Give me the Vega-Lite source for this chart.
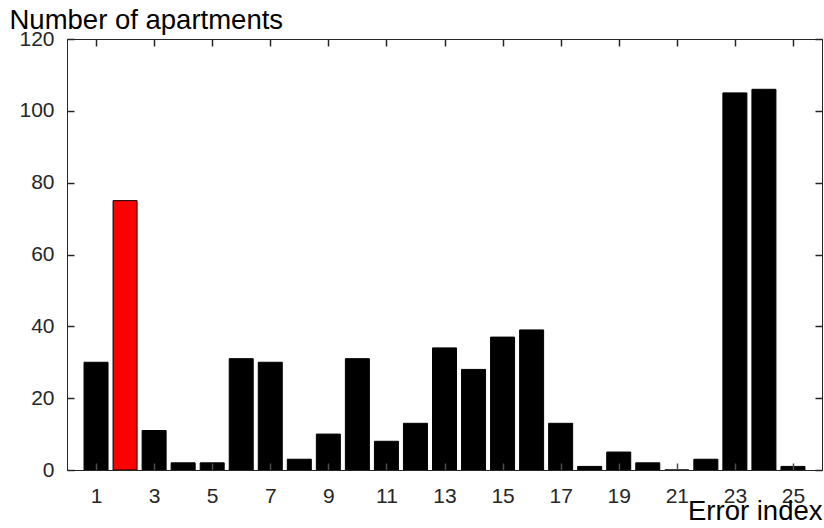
{
  "$schema": "https://vega.github.io/schema/vega-lite/v6.json",
  "width": 755,
  "height": 431,
  "autosize": {"type": "none"},
  "padding": {"left": 67, "top": 39, "right": 2, "bottom": 58},
  "background": "white",
  "config": {
    "view": {"stroke": "#262626", "strokeWidth": 1},
    "font": "Liberation Sans",
    "axis": {
      "grid": false,
      "labelColor": "#262626",
      "titleColor": "#000000",
      "labelFontSize": 21,
      "titleFontSize": 27.5,
      "titleFontWeight": "normal",
      "labelFont": "Liberation Sans",
      "titleFont": "Liberation Sans"
    }
  },
  "data": {
    "values": [
      {"index": 1, "count": 30, "group": "normal"},
      {"index": 2, "count": 75, "group": "highlight"},
      {"index": 3, "count": 11, "group": "normal"},
      {"index": 4, "count": 2, "group": "normal"},
      {"index": 5, "count": 2, "group": "normal"},
      {"index": 6, "count": 31, "group": "normal"},
      {"index": 7, "count": 30, "group": "normal"},
      {"index": 8, "count": 3, "group": "normal"},
      {"index": 9, "count": 10, "group": "normal"},
      {"index": 10, "count": 31, "group": "normal"},
      {"index": 11, "count": 8, "group": "normal"},
      {"index": 12, "count": 13, "group": "normal"},
      {"index": 13, "count": 34, "group": "normal"},
      {"index": 14, "count": 28, "group": "normal"},
      {"index": 15, "count": 37, "group": "normal"},
      {"index": 16, "count": 39, "group": "normal"},
      {"index": 17, "count": 13, "group": "normal"},
      {"index": 18, "count": 1, "group": "normal"},
      {"index": 19, "count": 5, "group": "normal"},
      {"index": 20, "count": 2, "group": "normal"},
      {"index": 21, "count": 0, "group": "normal"},
      {"index": 22, "count": 3, "group": "normal"},
      {"index": 23, "count": 105, "group": "normal"},
      {"index": 24, "count": 106, "group": "normal"},
      {"index": 25, "count": 1, "group": "normal"}
    ]
  },
  "layer": [
    {
      "mark": {"type": "bar", "size": 24, "stroke": "black", "strokeWidth": 1},
      "encoding": {
        "x": {
          "field": "index", "type": "quantitative",
          "scale": {"domain": [0, 26], "nice": false, "zero": false, "padding": 0},
          "axis": {
            "orient": "bottom",
            "values": [1, 3, 5, 7, 9, 11, 13, 15, 17, 19, 21, 23, 25],
            "domain": true, "domainColor": "#262626",
            "ticks": true, "tickSize": -7, "tickColor": "#4d4d4d", "tickWidth": 1.5, "tickOpacity": 1,
            "zindex": 1,
            "labelPadding": 22,
            "title": "Error index",
            "titleAnchor": "end",
            "titleAlign": "right",
            "titleBaseline": "alphabetic",
            "titleX": 755,
            "titleY": 49
          }
        },
        "y": {
          "field": "count", "type": "quantitative",
          "scale": {"domain": [0, 120], "nice": false, "padding": 0},
          "axis": {
            "orient": "left",
            "values": [0, 20, 40, 60, 80, 100, 120],
            "domain": true, "domainColor": "#262626",
            "ticks": true, "tickSize": -7, "tickColor": "#262626", "tickWidth": 1.5, "tickOpacity": 1,
            "zindex": 1,
            "labelPadding": 20,
            "title": "Number of apartments",
            "titleAngle": 0,
            "titleAlign": "left",
            "titleBaseline": "alphabetic",
            "titleX": -58,
            "titleY": -11
          }
        },
        "color": {
          "field": "group", "type": "nominal",
          "scale": {"domain": ["normal", "highlight"], "range": ["black", "red"]},
          "legend": null
        }
      }
    },
    {
      "mark": {"type": "bar", "size": 24, "opacity": 0},
      "encoding": {
        "x": {
          "field": "index", "type": "quantitative",
          "axis": {"orient": "top", "values": [1, 3, 5, 7, 9, 11, 13, 15, 17, 19, 21, 23, 25], "labels": false, "title": null,
            "domain": true, "domainColor": "#262626",
            "ticks": true, "tickSize": -7, "tickColor": "#262626", "tickWidth": 1.5, "tickOpacity": 1, "zindex": 1}
        },
        "y": {
          "field": "count", "type": "quantitative",
          "axis": {"orient": "right", "values": [0, 20, 40, 60, 80, 100, 120], "labels": false, "title": null,
            "domain": true, "domainColor": "#262626",
            "ticks": true, "tickSize": -7, "tickColor": "#262626", "tickWidth": 1.5, "tickOpacity": 1, "zindex": 1}
        }
      }
    }
  ],
  "resolve": {"axis": {"x": "independent", "y": "independent"}}
}
